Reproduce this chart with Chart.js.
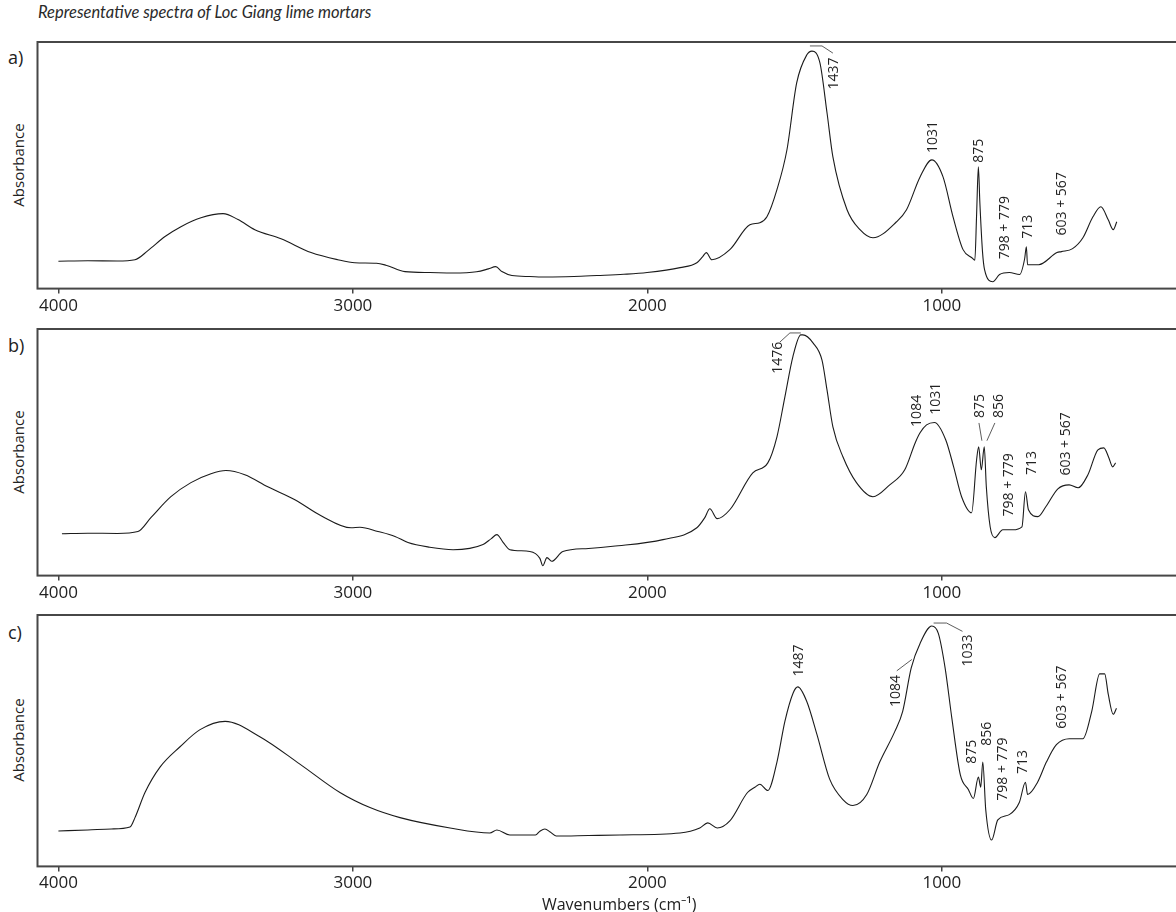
<!DOCTYPE html>
<html>
<head>
<meta charset="utf-8">
<script src="https://cdn.jsdelivr.net/npm/chart.js@4.4.1/dist/chart.umd.min.js"></script>
<style>
  html, body { margin: 0; padding: 0; background: #fff; }
  body { width: 1176px; height: 912px; overflow: hidden; position: relative; font-family: "Open Sans", sans-serif; color: #222; }
  canvas { position: absolute; left: 0; }
  .title { position: absolute; left: 38px; top: 2px; font-family: Lato, "Open Sans", sans-serif; font-style: italic; font-size: 16.5px; white-space: nowrap; color: #2a2a2a; }
  .panel { position: absolute; left: 8px; font-size: 18px; line-height: 20px; }
  .ylab { position: absolute; left: 18px; width: 120px; text-align: center; font-size: 15px; line-height: 18px; transform: translate(-50%, -50%) rotate(-90deg); }
</style>
</head>
<body>
<div class="title">Representative spectra of Loc Giang lime mortars</div>
<div class="panel" style="top:47px">a)</div>
<div class="panel" style="top:335px">b)</div>
<div class="panel" style="top:622px">c)</div>
<div class="ylab" style="top:165px">Absorbance</div>
<div class="ylab" style="top:452px">Absorbance</div>
<div class="ylab" style="top:740px">Absorbance</div>
<canvas id="chartA" width="1210" height="292" style="top:30px"></canvas>
<canvas id="chartB" width="1210" height="292" style="top:317px"></canvas>
<canvas id="chartC" width="1210" height="312" style="top:603px"></canvas>
<script>
// wavenumbers (cm-1) and relative absorbance
const waveA = [4000, 3900, 3800, 3740, 3696, 3638, 3584, 3516, 3441, 3390, 3333, 3244, 3142, 3051, 2993, 2920, 2888, 2823, 2739, 2660, 2580, 2540, 2515, 2494, 2460, 2400, 2341, 2250, 2171, 2080, 2001, 1889, 1832, 1812, 1800, 1781, 1720, 1652, 1618, 1594, 1560, 1526, 1493, 1459, 1441, 1414, 1390, 1370, 1322, 1278, 1234, 1154, 1120, 1074, 1034, 996, 962, 928, 898, 888, 882, 876, 871, 862, 855, 827, 804, 771, 736, 719, 713, 709, 671, 609, 594, 556, 521, 487, 460, 435, 418, 406];
const absA = [0.111, 0.113, 0.112, 0.117, 0.154, 0.211, 0.251, 0.287, 0.304, 0.280, 0.239, 0.202, 0.146, 0.117, 0.105, 0.103, 0.095, 0.069, 0.065, 0.063, 0.068, 0.080, 0.089, 0.069, 0.053, 0.049, 0.047, 0.049, 0.053, 0.058, 0.065, 0.085, 0.105, 0.130, 0.146, 0.117, 0.158, 0.259, 0.267, 0.291, 0.401, 0.563, 0.834, 0.947, 0.963, 0.915, 0.713, 0.534, 0.320, 0.239, 0.206, 0.271, 0.320, 0.453, 0.522, 0.453, 0.291, 0.158, 0.125, 0.115, 0.300, 0.494, 0.350, 0.150, 0.077, 0.028, 0.057, 0.065, 0.057, 0.120, 0.170, 0.097, 0.097, 0.146, 0.150, 0.162, 0.206, 0.291, 0.332, 0.279, 0.239, 0.271];

const waveB = [3988, 3900, 3800, 3730, 3686, 3618, 3550, 3482, 3431, 3367, 3289, 3197, 3108, 3006, 2976, 2915, 2857, 2813, 2739, 2660, 2558, 2530, 2511, 2490, 2467, 2399, 2365, 2355, 2341, 2325, 2287, 2200, 2117, 1947, 1832, 1805, 1788, 1763, 1720, 1642, 1591, 1560, 1533, 1506, 1479, 1472, 1437, 1407, 1390, 1370, 1336, 1290, 1234, 1177, 1126, 1090, 1074, 1052, 1025, 987, 960, 933, 899, 882, 875, 866, 856, 849, 836, 820, 793, 759, 728, 716, 706, 674, 647, 606, 568, 537, 504, 470, 450, 433, 420, 410];
const absB = [0.170, 0.172, 0.171, 0.179, 0.235, 0.320, 0.377, 0.413, 0.426, 0.409, 0.360, 0.308, 0.243, 0.194, 0.196, 0.179, 0.159, 0.134, 0.115, 0.105, 0.126, 0.150, 0.166, 0.135, 0.105, 0.098, 0.070, 0.040, 0.073, 0.058, 0.098, 0.110, 0.119, 0.146, 0.194, 0.235, 0.271, 0.231, 0.267, 0.417, 0.457, 0.563, 0.725, 0.887, 0.976, 0.976, 0.943, 0.874, 0.753, 0.603, 0.482, 0.377, 0.320, 0.368, 0.429, 0.540, 0.579, 0.611, 0.621, 0.551, 0.441, 0.320, 0.255, 0.470, 0.522, 0.429, 0.522, 0.360, 0.198, 0.154, 0.186, 0.186, 0.198, 0.340, 0.267, 0.239, 0.279, 0.352, 0.368, 0.356, 0.409, 0.510, 0.518, 0.478, 0.441, 0.457];

const waveC = [4000, 3900, 3820, 3757, 3740, 3706, 3655, 3587, 3519, 3434, 3316, 3180, 3044, 2942, 2840, 2670, 2535, 2511, 2467, 2380, 2365, 2348, 2330, 2310, 2200, 2093, 1889, 1822, 1795, 1763, 1720, 1660, 1635, 1618, 1591, 1560, 1533, 1505, 1489, 1459, 1424, 1381, 1336, 1302, 1255, 1211, 1160, 1133, 1104, 1074, 1034, 1012, 989, 966, 937, 910, 893, 876, 868, 861, 851, 831, 810, 771, 737, 716, 709, 675, 645, 611, 567, 521, 491, 464, 447, 435, 418, 407];
const absC = [0.141, 0.145, 0.149, 0.157, 0.194, 0.294, 0.395, 0.476, 0.544, 0.577, 0.516, 0.407, 0.294, 0.234, 0.194, 0.153, 0.133, 0.145, 0.125, 0.125, 0.140, 0.149, 0.137, 0.121, 0.123, 0.125, 0.133, 0.153, 0.173, 0.153, 0.181, 0.294, 0.315, 0.327, 0.302, 0.415, 0.577, 0.690, 0.714, 0.657, 0.524, 0.347, 0.266, 0.242, 0.286, 0.415, 0.536, 0.617, 0.790, 0.887, 0.956, 0.927, 0.790, 0.589, 0.363, 0.306, 0.270, 0.355, 0.315, 0.415, 0.226, 0.105, 0.185, 0.206, 0.254, 0.335, 0.286, 0.335, 0.415, 0.484, 0.508, 0.508, 0.617, 0.766, 0.766, 0.685, 0.605, 0.629];

const xTickValues = [4000, 3000, 2000, 1000];

// peak labels: text centred at (wave, abs)
const peaksA = [
  { label: "1437", wave: 1370, abs: 0.872 },
  { label: "1031", wave: 1034, abs: 0.615 },
  { label: "875", wave: 877, abs: 0.559 },
  { label: "798 + 779", wave: 789, abs: 0.247 },
  { label: "713", wave: 711, abs: 0.251 },
  { label: "603 + 567", wave: 596, abs: 0.344 },
];
const peaksB = [
  { label: "1476", wave: 1560, abs: 0.883 },
  { label: "1084", wave: 1088, abs: 0.668 },
  { label: "1031", wave: 1024, abs: 0.717 },
  { label: "875", wave: 874, abs: 0.688 },
  { label: "856", wave: 810, abs: 0.688 },
  { label: "798 + 779", wave: 776, abs: 0.368 },
  { label: "713", wave: 698, abs: 0.457 },
  { label: "603 + 567", wave: 582, abs: 0.534 },
];
const peaksC = [
  { label: "1487", wave: 1489, abs: 0.819 },
  { label: "1084", wave: 1160, abs: 0.698 },
  { label: "1033", wave: 915, abs: 0.859 },
  { label: "875", wave: 902, abs: 0.456 },
  { label: "856", wave: 851, abs: 0.528 },
  { label: "798 + 779", wave: 796, abs: 0.387 },
  { label: "713", wave: 728, abs: 0.415 },
  { label: "603 + 567", wave: 596, abs: 0.673 },
];

// leader lines from peak to label, as [wave, abs] points
const leadersA = [[[1448, 0.984], [1407, 0.984], [1370, 0.955]]];
const leadersB = [
  [[1479, 0.984], [1516, 0.984], [1550, 0.947]],
  [[874, 0.619], [864, 0.547]],
  [[820, 0.619], [847, 0.547]],
];
const leadersC = [
  [[1153, 0.778], [1102, 0.823]],
  [[1028, 0.968], [984, 0.968], [930, 0.935]],
];

const textColor = "#222";
Chart.defaults.font.family = "'Open Sans', sans-serif";

const framePlugin = {
  id: "frame",
  afterDraw(chart) {
    const { ctx, chartArea: a } = chart;
    ctx.save();
    ctx.strokeStyle = "#474747";
    ctx.lineWidth = 2;
    ctx.strokeRect(a.left, a.top, a.right - a.left, a.bottom - a.top);
    ctx.restore();
  },
};

function makeChart(id, waves, abs, peaks, leaders, showTitle) {
  const peakPlugin = {
    id: "peakLabels",
    afterDatasetsDraw(chart) {
      const { ctx } = chart;
      const xs = chart.scales.x;
      const ys = chart.scales.y;
      ctx.save();
      ctx.strokeStyle = "#333";
      ctx.lineWidth = 0.8;
      leaders.forEach((pts) => {
        ctx.beginPath();
        pts.forEach((p, i) => {
          const px = xs.getPixelForValue(p[0]);
          const py = ys.getPixelForValue(p[1]);
          if (i === 0) ctx.moveTo(px, py);
          else ctx.lineTo(px, py);
        });
        ctx.stroke();
      });
      ctx.fillStyle = textColor;
      ctx.font = "14px 'Open Sans', sans-serif";
      ctx.textAlign = "center";
      ctx.textBaseline = "middle";
      peaks.forEach((p) => {
        ctx.save();
        ctx.translate(xs.getPixelForValue(p.wave), ys.getPixelForValue(p.abs));
        ctx.rotate(-Math.PI / 2);
        ctx.fillText(p.label, 0, 1);
        ctx.restore();
      });
      ctx.restore();
    },
  };

  new Chart(document.getElementById(id), {
    type: "line",
    data: {
      datasets: [
        {
          data: waves.map((w, i) => ({ x: w, y: abs[i] })),
          borderColor: "#1b1b1b",
          borderWidth: 1.1,
          pointRadius: 0,
          cubicInterpolationMode: "monotone",
          fill: false,
        },
      ],
    },
    options: {
      responsive: false,
      animation: false,
      layout: { padding: { left: 37.5, right: 9, top: 12, bottom: showTitle ? 0 : 4 } },
      scales: {
        x: {
          type: "linear",
          reverse: true,
          min: 120,
          max: 4071,
          afterBuildTicks: (scale) => {
            scale.ticks = xTickValues.map((v) => ({ value: v }));
          },
          ticks: {
            color: textColor,
            font: { size: 17 },
            padding: 2,
            maxRotation: 0,
            autoSkip: false,
            callback: (value) => String(value),
          },
          grid: {
            drawOnChartArea: false,
            drawTicks: true,
            tickLength: 5,
            color: "#444",
            lineWidth: 1.5,
          },
          border: { display: false },
          title: {
            display: showTitle,
            text: "Wavenumbers (cm\u207B\u00B9)",
            color: textColor,
            font: { size: 16 },
            padding: { top: 0, bottom: 0 },
          },
        },
        y: { display: false, min: 0, max: 1 },
      },
      plugins: {
        legend: { display: false },
        tooltip: { enabled: false },
      },
    },
    plugins: [framePlugin, peakPlugin],
  });
}

makeChart("chartA", waveA, absA, peaksA, leadersA, false);
makeChart("chartB", waveB, absB, peaksB, leadersB, false);
makeChart("chartC", waveC, absC, peaksC, leadersC, true);
</script>
</body>
</html>
